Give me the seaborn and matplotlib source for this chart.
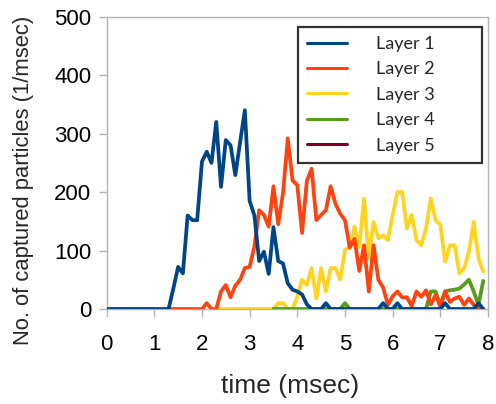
import numpy as np
import pandas as pd
import matplotlib
matplotlib.use("Agg")
import matplotlib.pyplot as plt
from matplotlib.lines import Line2D
import seaborn as sns

nan = np.nan
time = [round(0.1 * i, 1) for i in range(80)]

layer1 = [0] * 14 + [35, 72, 61, 160, 152, 152, 252, 269, 250, 320,
          209, 289, 280, 229, 285, 340, 185, 160, 82, 98,
          60, 140, 82, 78, 44, 33, 30, 25, 8, 0,
          0, 0, 10, 0, 0, 0, 0, 0, 0, 0,
          0, 0, 0, 0, 10, 0, 0, 10, 0, 0,
          0, 0, 0, 0, 0, 0, 0, 10, 0, 0,
          0, 0, 0, 0, 10, 0]
layer2 = [nan] * 13 + [0, 0, 0, 0, 0, 0, 0, 0, 10, 0, 0,
          30, 41, 20, 40, 50, 70, 72, 107, 169, 161,
          141, 210, 145, 198, 292, 220, 212, 130, 219, 240,
          152, 161, 169, 210, 180, 163, 152, 105, 120, 65,
          109, 30, 109, 50, 37, 7, 22, 30, 20, 20,
          5, 30, 21, 32, 8, 24, 4, 30, 12, 18,
          21, 7, 18, 7, 0, 0]
layer3 = [nan] * 23 + [0] * 13 + [10, 10, 0, 0,
          21, 50, 41, 70, 18, 70, 30, 70, 70, 50,
          101, 106, 141, 106, 189, 87, 149, 121, 126, 118,
          161, 200, 200, 138, 161, 118, 109, 138, 189, 152,
          144, 81, 109, 109, 61, 70, 98, 149, 87, 64]
layer4 = [nan] * 35 + [0] * 15 + [10] + [0] * 17 + [30, 30, 7, 30, 32, 33, 35, 42, 50, 30, 7, 48]
layer5 = [nan] * 80

labels = ["Layer 1", "Layer 2", "Layer 3", "Layer 4", "Layer 5"]
colors = ["#004586", "#ff420e", "#ffd320", "#579d1c", "#7e0021"]
series = [layer1, layer2, layer3, layer4, layer5]
zorders = [6, 5, 3, 4, 2]

df = pd.DataFrame({"time": time * 5,
                   "value": sum(series, []),
                   "layer": sum([[l] * 80 for l in labels], [])})

sns.set_style("white")
plt.rcParams["font.family"] = ["Liberation Sans", "DejaVu Sans"]

fig = plt.figure(figsize=(4.96, 4.04), dpi=100)
ax = fig.add_axes([106.6 / 496, 1 - 309 / 404, (488 - 106.6) / 496, (309 - 16.7) / 404])

for lab, col, z in zip(labels, colors, zorders):
    sub = df[df["layer"] == lab].dropna()
    if len(sub):
        sns.lineplot(data=sub, x="time", y="value", color=col, lw=2.7,
                     ax=ax, zorder=z, legend=False, estimator=None, sort=False)

ax.set_xlim(0, 8)
ax.set_ylim(0, 500)
ax.set_xticks(range(0, 9))
ax.set_yticks(range(0, 501, 100))
for s in ax.spines.values():
    s.set_color("#b3b3b3")
    s.set_linewidth(1.0)
ax.tick_params(axis="both", which="both", length=6, width=1.0, color="#b3b3b3",
               labelsize=16, labelcolor="black", direction="out",
               bottom=True, left=True)
ax.tick_params(axis="x", pad=12)
ax.tick_params(axis="y", pad=5)
ax.set_xlabel("time (msec)", fontsize=19)
ax.xaxis.set_label_coords(0.482, -0.222)
ax.set_ylabel("No. of captured particles (1/msec)", fontsize=15.8)
ax.yaxis.set_label_coords(-0.19, 0.44)

handles = [Line2D([0], [0], color=c, lw=2.2) for c in colors]
leg = ax.legend(handles, labels, loc="upper left",
                bbox_to_anchor=(0.502, 0.51, 0.482, 0.455), mode="expand",
                frameon=True, fancybox=False, edgecolor="black",
                prop={"family": ["Lato", "DejaVu Sans"], "size": 13},
                handlelength=2.2, handletextpad=1.6, labelspacing=0.52,
                borderpad=0.5, borderaxespad=0)
leg.get_frame().set_linewidth(1.6)
leg.set_zorder(10)

fig.savefig("out.png", dpi=100)
